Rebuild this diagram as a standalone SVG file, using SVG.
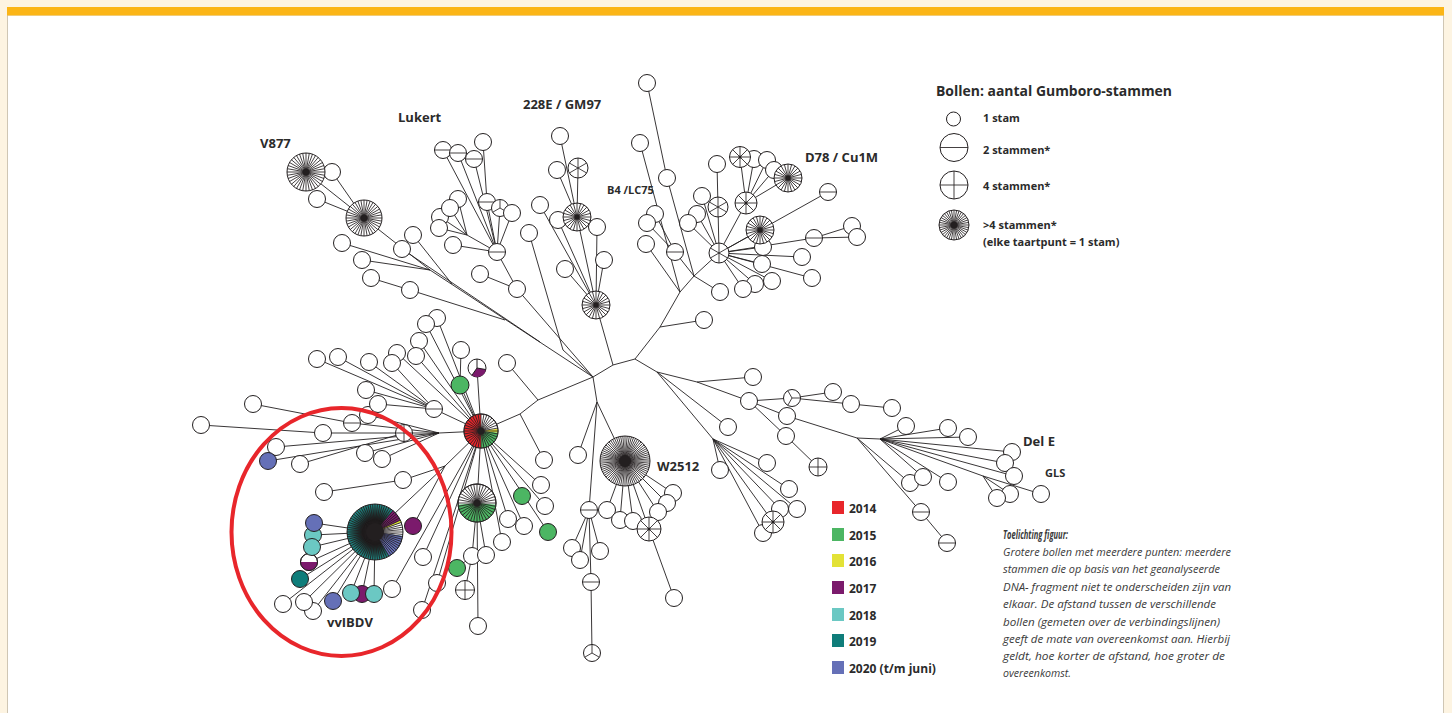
<svg xmlns="http://www.w3.org/2000/svg" width="1452" height="713" viewBox="0 0 1452 713">
<style>
.n{fill:#fff;stroke:#231f20;stroke-width:1}
.c path{fill:none;stroke:#231f20;stroke-width:.9}
.sp{fill:none;stroke:#231f20;stroke-width:.85}
.k{fill:#231f20}
.o{fill:none;stroke:#231f20;stroke-width:1}
.t{font-family:"Open Sans","Liberation Sans",Arial,sans-serif;font-weight:700;fill:#2b2b2b}
.i{font-family:"Open Sans","Liberation Sans",Arial,sans-serif;font-style:italic;fill:#3a3a3a;font-size:11.5px}
.red{fill:#e8262b}.grn{fill:#4cb663}.yel{fill:#e3e236}.pur{fill:#7b1a6c}.lt{fill:#6bc8c3}.dt{fill:#0f7d7a}.blu{fill:#6570b7}
</style>
<defs>
<path id="sh" class="sp" vector-effect="non-scaling-stroke" d="M-1 0H1"/>
<path id="cr" class="sp" vector-effect="non-scaling-stroke" d="M-1 0H1M0 -1V1"/>
<path id="y3" class="sp" vector-effect="non-scaling-stroke" d="M0 0V-1M0 0L.866 .5M0 0L-.866 .5"/>
<path id="s6" class="sp" vector-effect="non-scaling-stroke" d="M0 -1V1M.866 -.5L-.866 .5M.866 .5L-.866 -.5"/>
<path id="s8" class="sp" vector-effect="non-scaling-stroke" d="M-1 0H1M0 -1V1M.707 .707L-.707 -.707M.707 -.707L-.707 .707"/>
<path id="s24" class="sp" vector-effect="non-scaling-stroke" d="M1 0L-1 0M.966 .259L-.966 -.259M.866 .5L-.866 -.5M.707 .707L-.707 -.707M.5 .866L-.5 -.866M.259 .966L-.259 -.966M0 1L0 -1M-.259 .966L.259 -.966M-.5 .866L.5 -.866M-.707 .707L.707 -.707M-.866 .5L.866 -.5M-.966 .259L.966 -.259"/>
<path id="s36" class="sp" vector-effect="non-scaling-stroke" d="M1 0L-1 0M.985 .174L-.985 -.174M.94 .342L-.94 -.342M.866 .5L-.866 -.5M.766 .643L-.766 -.643M.643 .766L-.643 -.766M.5 .866L-.5 -.866M.342 .94L-.342 -.94M.174 .985L-.174 -.985M0 1L0 -1M-.174 .985L.174 -.985M-.342 .94L.342 -.94M-.5 .866L.5 -.866M-.643 .766L.643 -.766M-.766 .643L.766 -.643M-.866 .5L.866 -.5M-.94 .342L.94 -.342M-.985 .174L.985 -.174"/>
<radialGradient id="vg"><stop offset="0" stop-color="#111"/><stop offset=".45" stop-color="#151515"/><stop offset="1" stop-color="#1f8f8a"/></radialGradient>
</defs>
<rect width="1452" height="713" fill="#fdf4e2"/>
<rect x="7.5" y="15" width="1436" height="700" fill="#fff" stroke="#cfc6b4"/>
<rect x="7" y="7" width="1437" height="8.5" fill="#fbb516"/>

<g id="connectors" class="c">
<path d="M306 172L364 218M332 172L364 218M317 199L364 218M364 218L430 270L593 377M342 243L430 270M362 260L430 270M413 235L452 284M402 249L540 342M371 278L410 290L505 320"/>
<path d="M443 150L497 252M458 153L497 252M474 159L497 252M483 142L487 202L497 252M500 208L497 252M512 213L497 252M458 199L467 235M450 208L467 235M440 217L467 235M439 228L467 235L497 252M453 245L497 252L517 289L593 377M480 274L517 289"/>
<path d="M560 136L577 217M557 170L577 217M578 168L577 217L596 305M540 205L596 305M558 220L596 305M597 227L596 305M565 269L596 305M604 260L596 305M529 233L563 350L593 377M596 305L613 365"/>
<path d="M593 377L613 365L635 359M593 377L538 400L520 414L481 431M507 363L538 400M520 414L544 460M593 377L597 402L578 455M597 402L589 510M597 402L625 461"/>
<path d="M647 83L667 178L694 276M640 143L680 292M646 244L680 292M655 214L675 252M647 223L675 252L694 276L719 253M694 276L680 292L660 327L635 359M694 276L720 292M660 327L704 320"/>
<path d="M719 253L702 196M719 253L697 214M719 253L688 223M719 253L718 207L717 164M719 253L746 203M719 253L760 230M719 253L763 247M719 253L814 238M719 253L802 257M719 253L762 264M719 253L812 278M719 253L772 281M719 253L755 284M719 253L743 289M719 253L828 192M746 203L740 157M746 203L754 159M746 203L767 160M746 203L774 170M746 203L788 178M814 238L852 226M814 238L857 237"/>
<path d="M437 318L481 431M426 324L481 431M419 341L481 431M397 353L481 431M416 356L481 431M392 363L434 409M369 362L434 409M338 357L434 409M317 359L434 409M366 390L434 409M378 404L434 409L481 431M461 350L460 385L481 431M477 368L481 431"/>
<path d="M201 425L323 433L404 433L439 433L481 431M253 404L352 423L439 433M276 447L439 433M268 461L439 433M300 464L404 433M365 453L439 433M382 459L439 433M368 415L439 433"/>
<path d="M324 492L403 480L445 466L481 431M375 532L445 466M413 526L445 466M314 523L375 532M313 535L375 532M312 547L375 532M309 562L375 532M300 579L375 532M283 604L375 532M304 602L375 532M313 611L375 532M333 601L375 532M351 593L375 532M362 594L375 532M374 594L375 532M392 589L481 431M423 557L481 431M437 583L481 431M422 610L481 431"/>
<path d="M481 431L477 503M481 431L541 485M481 431L548 532M481 431L545 506M481 431L508 519M481 431L524 526M481 431L502 542M477 503L472 556L457 568M472 556L465 590M477 503L486 555M477 503L478 626"/>
<path d="M625 461L607 510M625 461L620 520M625 461L633 521M625 461L649 529L674 598M625 461L658 512M625 461L667 503M625 461L673 493M589 510L572 548M589 510L580 560M589 510L600 551M589 510L591 582L592 653"/>
<path d="M635 359L657 372L697 382L753 377M697 382L749 401M657 372L728 427M657 372L713 439M749 401L792 398L833 392M792 398L851 404L892 408M749 401L787 416L857 438L880 439M749 401L786 436L818 467M880 439L906 426M880 439L948 428M880 439L968 437M880 439L1012 452M880 439L1005 463M880 439L1014 476M880 439L923 477M880 439L948 482M880 439L983 476L997 498M983 476L1010 494M983 476L1041 494M857 438L910 483M857 438L921 512L947 543M713 439L767 463M713 439L720 470M713 439L789 489M713 439L797 509M713 439L780 509M713 439L773 522M713 439L763 533"/>
</g>

<!-- V877 cluster -->
<g id="a1"><circle class="n" cx="332" cy="172" r="8.5"/></g>
<g id="v877"><circle class="n" cx="306" cy="172" r="19"/><use href="#s36" transform="translate(306 172) scale(19)"/><circle class="k" cx="306" cy="172" r="3.5"/></g>
<g id="a2"><circle class="n" cx="317" cy="199" r="8.5"/></g>
<g id="a3"><circle class="n" cx="342" cy="243" r="8.5"/></g>
<g id="v2"><circle class="n" cx="364" cy="218" r="18"/><use href="#s36" transform="translate(364 218) scale(18)"/><circle class="k" cx="364" cy="218" r="3.5"/></g>
<g id="a4"><circle class="n" cx="362" cy="260" r="8.5"/></g>
<g id="a5"><circle class="n" cx="371" cy="278" r="8.5"/></g>
<g id="a6"><circle class="n" cx="410" cy="290" r="8.5"/></g>
<g id="a7"><circle class="n" cx="413" cy="235" r="8.5"/></g>
<g id="a8"><circle class="n" cx="402" cy="249" r="8.5"/></g>

<!-- Lukert cluster -->
<g id="l1"><circle class="n" cx="443" cy="150" r="8.5"/><use href="#sh" transform="translate(443 150) scale(8.5)"/></g>
<g id="l2"><circle class="n" cx="458" cy="153" r="8.5"/><use href="#sh" transform="translate(458 153) scale(8.5)"/></g>
<g id="l3"><circle class="n" cx="474" cy="159" r="8.5"/><use href="#sh" transform="translate(474 159) scale(8.5)"/></g>
<g id="l4"><circle class="n" cx="483" cy="142" r="8.5"/></g>
<g id="l5"><circle class="n" cx="487" cy="202" r="8.5"/><use href="#sh" transform="translate(487 202) scale(8.5)"/></g>
<g id="l6"><circle class="n" cx="500" cy="208" r="8.5"/><use href="#y3" transform="translate(500 208) scale(8.5)"/></g>
<g id="l7"><circle class="n" cx="512" cy="213" r="8.5"/></g>
<g id="l8"><circle class="n" cx="458" cy="199" r="8.5"/></g>
<g id="l10"><circle class="n" cx="440" cy="217" r="8.5"/></g>
<g id="l9"><circle class="n" cx="450" cy="208" r="8.5"/></g>
<g id="l11"><circle class="n" cx="439" cy="228" r="8.5"/></g>
<g id="l12"><circle class="n" cx="453" cy="245" r="8.5"/></g>
<g id="lh"><circle class="n" cx="497" cy="252" r="8.5"/><use href="#sh" transform="translate(497 252) scale(8.5)"/></g>
<g id="l13"><circle class="n" cx="480" cy="274" r="8.5"/></g>
<g id="l14"><circle class="n" cx="517" cy="289" r="8.5"/></g>

<!-- 228E cluster -->
<g id="g1"><circle class="n" cx="560" cy="136" r="8.5"/></g>
<g id="g2"><circle class="n" cx="557" cy="170" r="8.5"/></g>
<g id="g3"><circle class="n" cx="578" cy="168" r="10"/><use href="#s6" transform="translate(578 168) scale(10)"/></g>
<g id="g5"><circle class="n" cx="558" cy="220" r="8.5"/></g>
<g id="g6"><circle class="n" cx="597" cy="227" r="8.5"/></g>
<g id="gs"><circle class="n" cx="577" cy="217" r="14"/><use href="#s24" transform="translate(577 217) scale(14)"/><circle class="k" cx="577" cy="217" r="2.5"/></g>
<g id="g4"><circle class="n" cx="540" cy="205" r="8.5"/></g>
<g id="g7"><circle class="n" cx="529" cy="233" r="8.5"/></g>
<g id="g8"><circle class="n" cx="565" cy="269" r="8.5"/></g>
<g id="g9"><circle class="n" cx="604" cy="260" r="8.5"/></g>
<g id="gs2"><circle class="n" cx="596" cy="305" r="14"/><use href="#s24" transform="translate(596 305) scale(14)"/><circle class="k" cx="596" cy="305" r="2.5"/></g>

<!-- D78 cluster -->
<g id="d1"><circle class="n" cx="647" cy="83" r="8.5"/></g>
<g id="d2"><circle class="n" cx="640" cy="143" r="8.5"/></g>
<g id="d3"><circle class="n" cx="667" cy="178" r="8.5"/></g>
<g id="d4"><circle class="n" cx="717" cy="164" r="8.5"/></g>
<g id="d6"><circle class="n" cx="754" cy="159" r="8.5"/></g>
<g id="d7"><circle class="n" cx="767" cy="160" r="8.5"/></g>
<g id="d8"><circle class="n" cx="774" cy="170" r="8.5"/></g>
<g id="d5"><circle class="n" cx="740" cy="157" r="10.5"/><use href="#s8" transform="translate(740 157) scale(10.5)"/><circle class="k" cx="740" cy="157" r="1.5"/></g>
<g id="d9"><circle class="n" cx="788" cy="178" r="14"/><use href="#s24" transform="translate(788 178) scale(14)"/><circle class="k" cx="788" cy="178" r="2.5"/></g>
<g id="d10"><circle class="n" cx="828" cy="192" r="8.5"/><use href="#sh" transform="translate(828 192) scale(8.5)"/></g>
<g id="d11"><circle class="n" cx="702" cy="196" r="8.5"/></g>
<g id="d12"><circle class="n" cx="718" cy="207" r="10"/><use href="#s6" transform="translate(718 207) scale(10)"/></g>
<g id="d13"><circle class="n" cx="746" cy="203" r="11"/><use href="#s8" transform="translate(746 203) scale(11)"/><circle class="k" cx="746" cy="203" r="1.5"/></g>
<g id="d15"><circle class="n" cx="763" cy="247" r="8.5"/></g>
<g id="d14"><circle class="n" cx="760" cy="230" r="14"/><use href="#s24" transform="translate(760 230) scale(14)"/><circle class="k" cx="760" cy="230" r="2.5"/></g>
<g id="d16"><circle class="n" cx="852" cy="226" r="8.5"/></g>
<g id="d17"><circle class="n" cx="857" cy="237" r="8.5"/></g>
<g id="d18"><circle class="n" cx="814" cy="238" r="8.5"/><use href="#sh" transform="translate(814 238) scale(8.5)"/></g>
<g id="d19"><circle class="n" cx="697" cy="214" r="8.5"/></g>
<g id="d20"><circle class="n" cx="688" cy="223" r="8.5"/></g>
<g id="d21"><circle class="n" cx="655" cy="214" r="8.5"/></g>
<g id="d22"><circle class="n" cx="647" cy="223" r="8.5"/></g>
<g id="d23"><circle class="n" cx="646" cy="244" r="8.5"/></g>
<g id="d24"><circle class="n" cx="675" cy="252" r="8.5"/><use href="#sh" transform="translate(675 252) scale(8.5)"/></g>
<g id="dh"><circle class="n" cx="719" cy="253" r="10"/><use href="#s6" transform="translate(719 253) scale(10)"/></g>
<g id="d25"><circle class="n" cx="802" cy="257" r="8.5"/></g>
<g id="d26"><circle class="n" cx="762" cy="264" r="8.5"/></g>
<g id="d27"><circle class="n" cx="812" cy="278" r="8.5"/></g>
<g id="d28"><circle class="n" cx="772" cy="281" r="8.5"/></g>
<g id="d29"><circle class="n" cx="755" cy="284" r="8.5"/></g>
<g id="d30"><circle class="n" cx="743" cy="289" r="8.5"/></g>
<g id="d31"><circle class="n" cx="720" cy="292" r="8.5"/></g>
<g id="d32"><circle class="n" cx="704" cy="320" r="8.5"/></g>

<!-- left cluster -->
<g id="e1"><circle class="n" cx="437" cy="318" r="8.5"/></g>
<g id="e2"><circle class="n" cx="426" cy="324" r="8.5"/></g>
<g id="e3"><circle class="n" cx="419" cy="341" r="8.5"/></g>
<g id="e4"><circle class="n" cx="397" cy="353" r="8.5"/></g>
<g id="e5"><circle class="n" cx="392" cy="363" r="8.5"/></g>
<g id="e6"><circle class="n" cx="416" cy="356" r="8.5"/></g>
<g id="e7"><circle class="n" cx="369" cy="362" r="8.5"/></g>
<g id="e8"><circle class="n" cx="338" cy="357" r="8.5"/></g>
<g id="e9"><circle class="n" cx="317" cy="359" r="8.5"/></g>
<g id="e10"><circle class="n" cx="461" cy="350" r="8.5"/></g>
<g id="e11"><circle class="n" cx="477" cy="368" r="9"/><path class="pur" d="M477 368L485.86 369.56A9 9 0 0 1 471.84 375.37Z"/><path class="o" d="M477 359V368L485.86 369.56M477 368L471.84 375.37"/></g>
<g id="e12"><circle class="n grn" cx="460" cy="385" r="9"/></g>
<g id="e13"><circle class="n" cx="507" cy="363" r="8.5"/></g>
<g id="e14"><circle class="n" cx="366" cy="390" r="8.5"/></g>
<g id="e16"><circle class="n" cx="368" cy="415" r="8.5"/></g>
<g id="e15"><circle class="n" cx="378" cy="404" r="8.5"/></g>
<g id="e17"><circle class="n" cx="434" cy="409" r="8.5"/><use href="#sh" transform="translate(434 409) scale(8.5)"/></g>
<g id="e18"><circle class="n" cx="352" cy="423" r="8.5"/><use href="#sh" transform="translate(352 423) scale(8.5)"/></g>
<g id="e19"><circle class="n" cx="253" cy="404" r="8.5"/></g>
<g id="e20"><circle class="n" cx="201" cy="425" r="8.5"/></g>
<g id="e21"><circle class="n" cx="323" cy="433" r="8.5"/></g>
<g id="e22"><circle class="n" cx="404" cy="433" r="8.5"/><use href="#cr" transform="translate(404 433) scale(8.5)"/></g>
<g id="e23"><circle class="n" cx="276" cy="447" r="8.5"/></g>
<g id="e24"><circle class="n blu" cx="268" cy="461" r="8.5"/></g>
<g id="e25"><circle class="n" cx="300" cy="464" r="8.5"/></g>
<g id="e26"><circle class="n" cx="365" cy="453" r="8.5"/></g>
<g id="e27"><circle class="n" cx="382" cy="459" r="8.5"/></g>
<g id="f0"><circle class="n" cx="544" cy="460" r="8.5"/></g>

<!-- vvIBDV cluster -->
<g id="v18"><circle class="n" cx="324" cy="492" r="8.5"/></g>
<g id="v19"><circle class="n" cx="403" cy="480" r="8.5"/></g>
<g id="vb"><circle cx="375" cy="532" r="28" fill="url(#vg)"/>
<path class="pur" d="M375 532L393 510.55A28 28 0 0 1 400.38 520.17Z"/>
<path class="yel" d="M375 532L400.38 520.17A28 28 0 0 1 401.31 522.42Z"/>
<path fill="#fff" d="M375 532L401.31 522.42A28 28 0 0 1 402.73 535.9Z"/>
<path class="blu" d="M375 532L402.73 535.9A28 28 0 0 1 389 556.25Z"/>
<use href="#s36" transform="translate(375 532) scale(28)"/><use href="#s36" transform="translate(375 532) rotate(5) scale(28)"/>
<circle class="o" cx="375" cy="532" r="28"/><circle class="k" cx="375" cy="532" r="9"/></g>
<g id="v1"><circle class="n pur" cx="413" cy="526" r="8.5"/></g>
<g id="v5"><circle class="n" cx="309" cy="562" r="8.5"/><path class="pur" d="M300.5 562A8.5 8.5 0 0 0 317.5 562Z"/><circle class="o" cx="309" cy="562" r="8.5"/></g>
<g id="v3"><circle class="n lt" cx="313" cy="535" r="8.5"/></g>
<g id="v4"><circle class="n lt" cx="312" cy="547" r="8.5"/></g>
<g id="v2c"><circle class="n blu" cx="314" cy="523" r="8.5"/></g>
<g id="v6"><circle class="n dt" cx="300" cy="579" r="8.5"/></g>
<g id="v7"><circle class="n" cx="283" cy="604" r="8.5"/></g>
<g id="v9"><circle class="n" cx="313" cy="611" r="8.5"/></g>
<g id="v8"><circle class="n" cx="304" cy="602" r="8.5"/></g>
<g id="v10"><circle class="n blu" cx="333" cy="601" r="8.5"/></g>
<g id="v12"><circle class="n pur" cx="362" cy="594" r="8.5"/></g>
<g id="v11"><circle class="n lt" cx="351" cy="593" r="8.5"/></g>
<g id="v13"><circle class="n lt" cx="374" cy="594" r="8.5"/></g>
<g id="v14"><circle class="n" cx="392" cy="589" r="8.5"/></g>
<g id="v15"><circle class="n" cx="423" cy="557" r="8.5"/></g>
<g id="v16"><circle class="n" cx="437" cy="583" r="8.5"/></g>
<g id="v17"><circle class="n" cx="422" cy="610" r="8.5"/></g>

<!-- red hub and fan -->
<g id="hub"><circle class="n" cx="481" cy="431" r="17"/>
<path class="red" d="M481 431L481 448A17 17 0 0 1 481 414Z"/>
<path class="grn" d="M481 431L497.94 432.48A17 17 0 0 1 481 448Z"/>
<path class="yel" d="M481 431L497.83 428.63A17 17 0 0 1 497.94 432.48Z"/>
<use href="#s36" transform="translate(481 431) scale(17)"/><circle class="o" cx="481" cy="431" r="17"/><circle class="k" cx="481" cy="431" r="3.5"/></g>
<g id="gw"><circle class="n" cx="477" cy="503" r="19"/><path class="grn" d="M477 503L495.93 504.66A19 19 0 0 1 458.07 504.66Z"/><use href="#s36" transform="translate(477 503) scale(19)"/><circle class="o" cx="477" cy="503" r="19"/><circle class="k" cx="477" cy="503" r="3.5"/></g>
<g id="f1"><circle class="n" cx="541" cy="485" r="8.5"/></g>
<g id="f2"><circle class="n grn" cx="522" cy="496" r="8.5"/></g>
<g id="f3"><circle class="n" cx="545" cy="506" r="8.5"/></g>
<g id="f4"><circle class="n grn" cx="548" cy="532" r="8.5"/></g>
<g id="f5"><circle class="n" cx="508" cy="519" r="8.5"/></g>
<g id="f6"><circle class="n" cx="524" cy="526" r="8.5"/></g>
<g id="f7"><circle class="n" cx="502" cy="542" r="8.5"/></g>
<g id="f8"><circle class="n" cx="472" cy="556" r="8.5"/></g>
<g id="f9"><circle class="n" cx="486" cy="555" r="8.5"/></g>
<g id="f10"><circle class="n grn" cx="457" cy="568" r="8.5"/></g>
<g id="f11"><circle class="n" cx="465" cy="590" r="9.5"/><use href="#cr" transform="translate(465 590) scale(9.5)"/></g>
<g id="f12"><circle class="n" cx="478" cy="626" r="8.5"/></g>

<!-- W2512 cluster -->
<g id="w1"><circle class="n" cx="578" cy="455" r="8.5"/></g>
<g id="ws"><circle class="n" cx="589" cy="510" r="8.5"/><use href="#sh" transform="translate(589 510) scale(8.5)"/></g>
<g id="w7"><circle class="n" cx="673" cy="493" r="8.5"/></g>
<g id="w6"><circle class="n" cx="667" cy="503" r="8.5"/></g>
<g id="w5"><circle class="n" cx="658" cy="512" r="8.5"/></g>
<g id="w2"><circle class="n" cx="607" cy="510" r="8.5"/></g>
<g id="w3"><circle class="n" cx="620" cy="520" r="8.5"/></g>
<g id="w4"><circle class="n" cx="633" cy="521" r="8.5"/></g>
<g id="wb"><circle class="n" cx="625" cy="461" r="25"/><use href="#s36" transform="translate(625 461) scale(25)"/><use href="#s36" transform="translate(625 461) rotate(5) scale(25)"/><circle class="k" cx="625" cy="461" r="6"/></g>
<g id="ws8"><circle class="n" cx="649" cy="529" r="12"/><use href="#s8" transform="translate(649 529) scale(12)"/><circle class="k" cx="649" cy="529" r="1.5"/></g>
<g id="w8"><circle class="n" cx="674" cy="598" r="8.5"/></g>
<g id="w9"><circle class="n" cx="572" cy="548" r="8.5"/></g>
<g id="w10"><circle class="n" cx="580" cy="560" r="8.5"/></g>
<g id="w11"><circle class="n" cx="600" cy="551" r="8.5"/></g>
<g id="ws2"><circle class="n" cx="591" cy="582" r="8.5"/><use href="#sh" transform="translate(591 582) scale(8.5)"/></g>
<g id="w12"><circle class="n" cx="592" cy="653" r="8.5"/><use href="#y3" transform="translate(592 653) scale(8.5)"/></g>

<!-- right cluster -->
<g id="r2"><circle class="n" cx="753" cy="377" r="8.5"/></g>
<g id="r3"><circle class="n" cx="749" cy="401" r="8.5"/></g>
<g id="r5"><circle class="n" cx="792" cy="398" r="8.5"/><use href="#y3" transform="translate(792 398) rotate(-30) scale(8.5)"/></g>
<g id="r6"><circle class="n" cx="833" cy="392" r="8.5"/></g>
<g id="r7"><circle class="n" cx="851" cy="404" r="8.5"/></g>
<g id="r8"><circle class="n" cx="892" cy="408" r="8.5"/></g>
<g id="r9"><circle class="n" cx="787" cy="416" r="8.5"/></g>
<g id="r4"><circle class="n" cx="728" cy="427" r="8.5"/></g>
<g id="r10"><circle class="n" cx="786" cy="436" r="8.5"/></g>
<g id="r11"><circle class="n" cx="818" cy="467" r="9"/><use href="#cr" transform="translate(818 467) scale(9)"/></g>
<g id="r26"><circle class="n" cx="767" cy="463" r="8.5"/></g>
<g id="r27"><circle class="n" cx="720" cy="470" r="8.5"/></g>
<g id="r28"><circle class="n" cx="789" cy="489" r="8.5"/></g>
<g id="r30"><circle class="n" cx="780" cy="509" r="8.5"/></g>
<g id="r29"><circle class="n" cx="797" cy="509" r="8.5"/></g>
<g id="r32"><circle class="n" cx="763" cy="533" r="8.5"/></g>
<g id="r31"><circle class="n" cx="773" cy="522" r="11"/><use href="#s8" transform="translate(773 522) scale(11)"/><circle class="k" cx="773" cy="522" r="1.5"/></g>
<g id="r12"><circle class="n" cx="906" cy="426" r="8.5"/></g>
<g id="r13"><circle class="n" cx="948" cy="428" r="8.5"/></g>
<g id="r14"><circle class="n" cx="968" cy="437" r="8.5"/></g>
<g id="r15"><circle class="n" cx="1012" cy="452" r="8.5"/></g>
<g id="r16"><circle class="n" cx="1005" cy="463" r="8.5"/></g>
<g id="r17"><circle class="n" cx="1014" cy="476" r="8.5"/></g>
<g id="r22"><circle class="n" cx="1010" cy="494" r="8.5"/></g>
<g id="r21"><circle class="n" cx="997" cy="498" r="8.5"/></g>
<g id="r23"><circle class="n" cx="1041" cy="494" r="8.5"/></g>
<g id="r20"><circle class="n" cx="948" cy="482" r="8.5"/></g>
<g id="r19"><circle class="n" cx="910" cy="483" r="8.5"/></g>
<g id="r18"><circle class="n" cx="923" cy="477" r="8.5"/></g>
<g id="r24"><circle class="n" cx="921" cy="512" r="8.5"/><use href="#sh" transform="translate(921 512) scale(8.5)"/></g>
<g id="r25"><circle class="n" cx="947" cy="543" r="8.5"/><use href="#sh" transform="translate(947 543) scale(8.5)"/></g>

<!-- red highlight ellipse -->
<g id="highlight"><ellipse cx="341.5" cy="532" rx="110" ry="124" fill="none" stroke="#e8262b" stroke-width="4"/></g>

<!-- cluster labels -->
<g id="labels" class="t">
<text x="260" y="148" font-size="13">V877</text>
<text x="398" y="122" font-size="13">Lukert</text>
<text x="523" y="109" font-size="13">228E / GM97</text>
<text x="607" y="194" font-size="11">B4 /LC75</text>
<text x="805" y="162" font-size="13">D78 / Cu1M</text>
<text x="657" y="471" font-size="13">W2512</text>
<text x="1023" y="446" font-size="13">Del E</text>
<text x="1045" y="477" font-size="11">GLS</text>
<text x="327" y="627" font-size="13">vvIBDV</text>
</g>

<!-- legend: ball sizes -->
<g id="legend-bollen">
<text class="t" x="936" y="96" font-size="15" textLength="236" lengthAdjust="spacingAndGlyphs">Bollen: aantal Gumboro-stammen</text>
<circle class="n" cx="953.5" cy="119" r="7"/>
<text class="t" x="983" y="122" font-size="11">1 stam</text>
<circle class="n" cx="954" cy="147.5" r="14"/><use href="#sh" transform="translate(954 147.5) scale(14)"/>
<text class="t" x="983" y="154" font-size="11">2 stammen*</text>
<circle class="n" cx="954" cy="185" r="14"/><use href="#cr" transform="translate(954 185) scale(14)"/>
<text class="t" x="983" y="190" font-size="11">4 stammen*</text>
<circle class="n" cx="954" cy="225" r="15"/><use href="#s36" transform="translate(954 225) scale(15)"/><circle class="k" cx="954" cy="225" r="3.5"/>
<text class="t" x="983" y="229" font-size="11">&gt;4 stammen*</text>
<text class="t" x="983" y="246" font-size="11">(elke taartpunt = 1 stam)</text>
</g>

<!-- legend: years -->
<g id="legend-years">
<rect class="red" x="832" y="501" width="12" height="13"/><text class="t" x="849" y="513" font-size="12">2014</text>
<rect class="grn" x="832" y="528" width="12" height="13"/><text class="t" x="849" y="540" font-size="12">2015</text>
<rect class="yel" x="832" y="554" width="12" height="13"/><text class="t" x="849" y="566" font-size="12">2016</text>
<rect class="pur" x="832" y="581" width="12" height="13"/><text class="t" x="849" y="593" font-size="12">2017</text>
<rect class="lt" x="832" y="608" width="12" height="13"/><text class="t" x="849" y="620" font-size="12">2018</text>
<rect class="dt" x="832" y="634" width="12" height="13"/><text class="t" x="849" y="646" font-size="12">2019</text>
<rect class="blu" x="832" y="661" width="12" height="13"/><text class="t" x="849" y="673" font-size="12">2020 (t/m juni)</text>
</g>

<!-- explanation -->
<g id="toelichting">
<text class="i" x="1003" y="539" font-weight="700" textLength="65" lengthAdjust="spacingAndGlyphs">Toelichting figuur:</text>
<text class="i" x="1003" y="556" textLength="228" lengthAdjust="spacingAndGlyphs">Grotere bollen met meerdere punten: meerdere</text>
<text class="i" x="1003" y="573" textLength="217" lengthAdjust="spacingAndGlyphs">stammen die op basis van het geanalyseerde</text>
<text class="i" x="1003" y="591" textLength="228" lengthAdjust="spacingAndGlyphs">DNA- fragment niet te onderscheiden zijn van</text>
<text class="i" x="1003" y="608" textLength="213" lengthAdjust="spacingAndGlyphs">elkaar. De afstand tussen de verschillende</text>
<text class="i" x="1003" y="626" textLength="217" lengthAdjust="spacingAndGlyphs">bollen (gemeten over de verbindingslijnen)</text>
<text class="i" x="1003" y="643" textLength="227" lengthAdjust="spacingAndGlyphs">geeft de mate van overeenkomst aan. Hierbij</text>
<text class="i" x="1003" y="660" textLength="222" lengthAdjust="spacingAndGlyphs">geldt, hoe korter de afstand, hoe groter de</text>
<text class="i" x="1003" y="677" textLength="68" lengthAdjust="spacingAndGlyphs">overeenkomst.</text>
</g>
</svg>
